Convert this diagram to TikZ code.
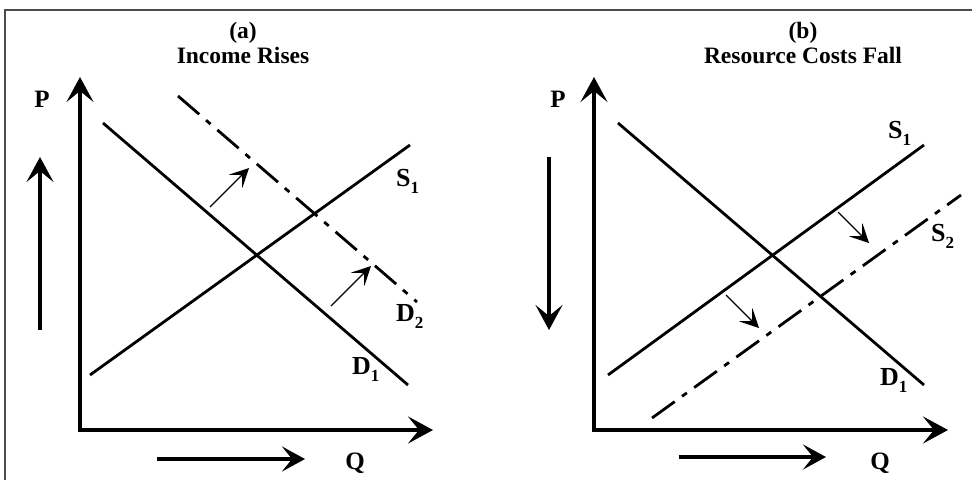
\documentclass[tikz,border=0pt]{standalone}
\usepackage{fontspec}
\setmainfont{Liberation Serif}
\usetikzlibrary{arrows.meta}
\tikzset{
  frame/.style={line width=1.2pt, draw=black!70},
  axis/.style={line width=3.8pt, line join=miter, {Stealth[length=25pt,width=27pt,inset=11pt]}-{Stealth[length=25pt,width=27pt,inset=11pt]}},
  uparrow/.style={line width=3.8pt, -{Stealth[length=25pt,width=27pt,inset=11pt]}},
  rarrow/.style={line width=3.8pt, -{Stealth[length=23pt,width=25pt,inset=10pt]}},
  curve/.style={line width=2.8pt},
  shifted/.style={line width=2.8pt, dash pattern=on 28pt off 9pt on 6pt off 9pt},
  small/.style={line width=1.2pt, -{Stealth[length=19pt,width=19pt,inset=9pt]}},
  title/.style={font=\bfseries\fontsize{23.5}{25}\selectfont, align=center, inner sep=0pt},
  lab/.style={font=\bfseries\fontsize{25}{27}\selectfont, inner sep=0pt},
  clab/.style={font=\bfseries\fontsize{26}{28}\selectfont, inner sep=0pt, anchor=west},
}
\newcommand{\sublab}[2]{#1\raisebox{-7pt}{\fontsize{17}{19}\selectfont #2}}
\begin{document}
\begin{tikzpicture}[x=1pt,y=-1pt]
\useasboundingbox (0,0) rectangle (972,480);
\fill[white] (0,0) rectangle (972,480);
\coordinate (fbl) at (5,480);
\coordinate (ftl) at (5,10);
\coordinate (ftr) at (972,10);
\draw[frame] (fbl) -- (ftl) -- (ftr);

% ---------- panel (a) ----------
\node[title] (ta) at (243,43) {(a)\\Income Rises};
\coordinate (Ya) at (80,77);
\coordinate (Oa) at (80,430);
\coordinate (Xa) at (433,430);
\draw[axis] (Ya) -- (Oa) -- (Xa);
\node[lab] (Pa) at (42,99) {P};
\node[lab] (Qa) at (355,463) {Q};
\coordinate (UpA1) at (40,330);
\coordinate (UpA2) at (40,157);
\draw[uparrow] (UpA1) -- (UpA2);
\coordinate (RA1) at (157,459);
\coordinate (RA2) at (305,459);
\draw[rarrow] (RA1) -- (RA2);
\coordinate (D1a1) at (103,123);
\coordinate (D1a2) at (408,385);
\draw[curve] (D1a1) -- (D1a2);
\coordinate (S1a1) at (90,375);
\coordinate (S1a2) at (410,145);
\draw[curve] (S1a1) -- (S1a2);
\coordinate (D2a1) at (178,96);
\coordinate (D2a2) at (417,302);
\draw[shifted] (D2a1) -- (D2a2);
\node[clab] (S1al) at (396,181) {\sublab{S}{1}};
\node[clab] (D2al) at (396,316) {\sublab{D}{2}};
\node[clab] (D1al) at (352,369) {\sublab{D}{1}};
\coordinate (sa1) at (210,207);
\coordinate (sa2) at (249,168);
\draw[small] (sa1) -- (sa2);
\coordinate (sb1) at (331,306);
\coordinate (sb2) at (371,266);
\draw[small] (sb1) -- (sb2);

% ---------- panel (b) ----------
\node[title] (tb) at (803,43) {(b)\\Resource Costs Fall};
\coordinate (Yb) at (594,77);
\coordinate (Ob) at (594,430);
\coordinate (Xb) at (948,430);
\draw[axis] (Yb) -- (Ob) -- (Xb);
\node[lab] (Pb) at (558,99) {P};
\node[lab] (Qb) at (880,463) {Q};
\coordinate (DnB1) at (549,157);
\coordinate (DnB2) at (549,330);
\draw[uparrow] (DnB1) -- (DnB2);
\coordinate (RB1) at (679,457);
\coordinate (RB2) at (826,457);
\draw[rarrow] (RB1) -- (RB2);
\coordinate (D1b1) at (618,123);
\coordinate (D1b2) at (924,385);
\draw[curve] (D1b1) -- (D1b2);
\coordinate (S1b1) at (608,375);
\coordinate (S1b2) at (924,145);
\draw[curve] (S1b1) -- (S1b2);
\coordinate (S2b1) at (652,418);
\coordinate (S2b2) at (961,195);
\draw[shifted] (S2b1) -- (S2b2);
\node[clab] (S1bl) at (888,133) {\sublab{S}{1}};
\node[clab] (S2bl) at (931,236) {\sublab{S}{2}};
\node[clab] (D1bl) at (880,380) {\sublab{D}{1}};
\coordinate (sc1) at (838,212);
\coordinate (sc2) at (869,243);
\draw[small] (sc1) -- (sc2);
\coordinate (sd1) at (726,295);
\coordinate (sd2) at (759,328);
\draw[small] (sd1) -- (sd2);
\end{tikzpicture}
\end{document}
